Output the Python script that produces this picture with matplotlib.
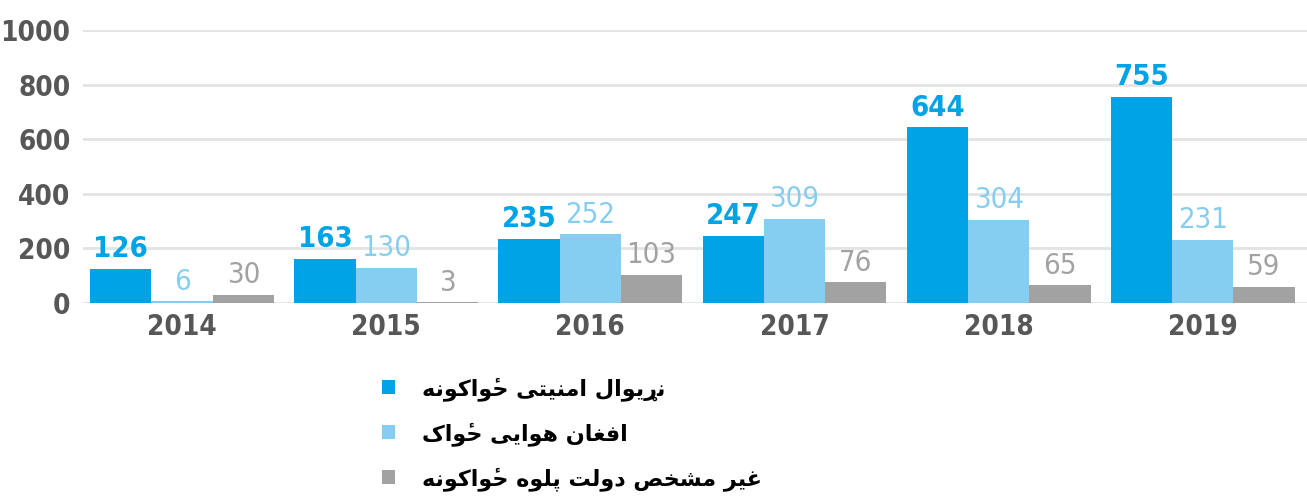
import numpy as np
import matplotlib
matplotlib.use("Agg")
import matplotlib.pyplot as plt
from matplotlib import font_manager

years = ["2014", "2015", "2016", "2017", "2018", "2019"]
intl_forces = [126, 163, 235, 247, 644, 755]
afghan_air = [6, 130, 252, 309, 304, 231]
unknown_pro_gov = [30, 3, 103, 76, 65, 59]
legend_labels = ["نړیوال امنیتی ځواکونه", "افغان هوایی ځواک", "غیر مشخص دولت پلوه ځواکونه"]
y_ticks = [0, 200, 400, 600, 800, 1000]

# matplotlib does no arabic shaping, so map letters to presentation forms by hand
HAMZA = '\u0654'
FORMS = {
    'ا': ('\uFE8D', '\uFE8E', None, None),
    'ب': ('\uFE8F', '\uFE90', '\uFE91', '\uFE92'),
    'پ': ('\uFB56', '\uFB57', '\uFB58', '\uFB59'),
    'ت': ('\uFE95', '\uFE96', '\uFE97', '\uFE98'),
    'خ': ('\uFEA5', '\uFEA6', '\uFEA7', '\uFEA8'),
    'د': ('\uFEA9', '\uFEAA', None, None),
    'ر': ('\uFEAD', '\uFEAE', None, None),
    'ړ': ('ړ', 'ړ', None, None),
    'ش': ('\uFEB5', '\uFEB6', '\uFEB7', '\uFEB8'),
    'ص': ('\uFEB9', '\uFEBA', '\uFEBB', '\uFEBC'),
    'غ': ('\uFECD', '\uFECE', '\uFECF', '\uFED0'),
    'ف': ('\uFED1', '\uFED2', '\uFED3', '\uFED4'),
    'ک': ('\uFB8E', '\uFB8F', '\uFB90', '\uFB91'),
    'ل': ('\uFEDD', '\uFEDE', '\uFEDF', '\uFEE0'),
    'م': ('\uFEE1', '\uFEE2', '\uFEE3', '\uFEE4'),
    'ن': ('\uFEE5', '\uFEE6', '\uFEE7', '\uFEE8'),
    'ه': ('\uFEE9', '\uFEEA', '\uFEEB', '\uFEEC'),
    'و': ('\uFEED', '\uFEEE', None, None),
    'ی': ('\uFBFC', '\uFBFD', '\uFBFE', '\uFBFF'),
    # hamza mark drawn first, then the hah form on top of the same spot
    'ځ': (HAMZA + '\uFEA1', HAMZA + '\uFEA2', HAMZA + '\uFEA3', HAMZA + '\uFEA4'),
}


def shape(text):
    out = []
    for i, c in enumerate(text):
        if c not in FORMS:
            out.append(c)
            continue
        prev = text[i - 1] if i > 0 else ' '
        nxt = text[i + 1] if i + 1 < len(text) else ' '
        join_prev = prev in FORMS and FORMS[prev][2] is not None
        join_next = nxt in FORMS and FORMS[c][2] is not None
        iso, fin, ini, med = FORMS[c]
        if join_prev and join_next:
            out.append(med)
        elif join_prev:
            out.append(fin)
        elif join_next:
            out.append(ini)
        else:
            out.append(iso)
    # reverse clusters, not code points
    return ''.join(reversed(out))


def narrow_font(size, want=700):
    best = None
    for f in font_manager.fontManager.ttflist:
        narrow = f.stretch in ('condensed', 'semi-condensed', 'extra-condensed') \
            or 'Narrow' in f.name or 'Condensed' in f.name
        if not narrow or f.style != 'normal':
            continue
        w = f.weight if isinstance(f.weight, int) else (700 if 'bold' in str(f.weight) else 400)
        if best is None or abs(w - want) < abs(best[0] - want):
            best = (w, f.fname)
    if best is None:
        wt = 'bold' if want >= 600 else 'normal'
        return font_manager.FontProperties(family='DejaVu Sans', weight=wt, size=size * 0.8)
    return font_manager.FontProperties(fname=best[1], size=size)


tick_prop = narrow_font(20)
bold_val = narrow_font(21)
plain_val = narrow_font(21, want=400)

dark = '#00a3e6'
light = '#85cef1'
gray = '#a2a2a2'
txt = '#575757'

fig = plt.figure(figsize=(13.07, 4.97), dpi=100)
ax = fig.add_axes([83 / 1307, 194 / 497, 1 - 83 / 1307, 273 / 497])

x = np.arange(len(years))
w = 0.3
series = [(intl_forces, dark, bold_val), (afghan_air, light, plain_val),
          (unknown_pro_gov, gray, plain_val)]
bars = []
for k, (vals, col, fp) in enumerate(series):
    b = ax.bar(x + (k - 1) * w, vals, w, color=col, zorder=2)
    bars.append(b)
    for xi, v in zip(x + (k - 1) * w, vals):
        ax.annotate(str(v), (xi, v), xytext=(0, 4), textcoords='offset points',
                    ha='center', va='bottom', color=col, fontproperties=fp)

ax.set_xlim(-0.485, 5.51)
ax.set_ylim(0, 1000)
ax.set_yticks(y_ticks)
ax.set_xticks(x)
ax.set_xticklabels(years)
ax.yaxis.grid(True, color='#e3e3e3', linewidth=2, zorder=0)
ax.tick_params(length=0, pad=7)
ax.tick_params(axis='y', pad=9)
for lab in ax.get_xticklabels() + ax.get_yticklabels():
    lab.set_fontproperties(tick_prop)
    lab.set_color(txt)
for s in ax.spines.values():
    s.set_visible(False)

fig.legend(bars, [shape(t) for t in legend_labels], loc='upper left',
           bbox_to_anchor=(362 / 1307, 1 - 357 / 497), frameon=False,
           handlelength=0.6, handleheight=0.6, handletextpad=1.2,
           labelspacing=0.95, prop={'family': 'DejaVu Sans', 'weight': 'bold', 'size': 16})

fig.savefig('out.png', dpi=100)
